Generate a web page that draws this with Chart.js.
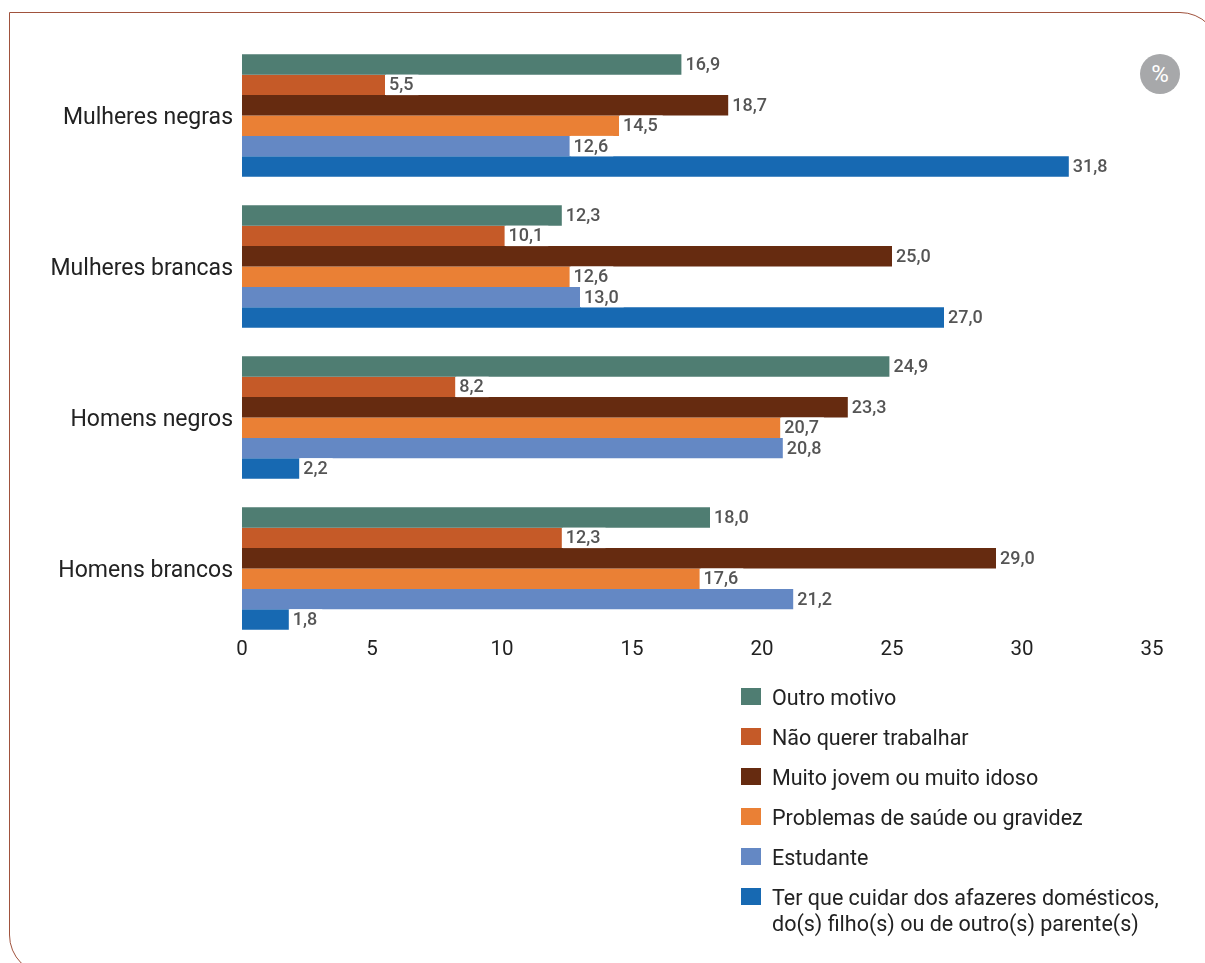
<!DOCTYPE html>
<html>
<head>
<meta charset="utf-8">
<script src="https://cdn.jsdelivr.net/npm/chart.js@4/dist/chart.umd.min.js"></script>
<style>
    body { margin: 0; background: #fff; font-family: Roboto, sans-serif; }
    #wrap { position: relative; width: 1205px; height: 963px; overflow: hidden; }
    #frame {
        position: absolute; left: 9px; top: 12px; width: 1209px; height: 961px;
        border: 1.5px solid #a0523d;
        border-top-right-radius: 40px; border-bottom-left-radius: 40px;
    }
    #chart { position: absolute; left: 0; top: 0; }
    #badge {
        position: absolute; left: 1140px; top: 54px; width: 40px; height: 40px;
        border-radius: 50%; background: #a7a8aa; color: #fff;
        font-size: 24px; line-height: 41px; text-align: center;
    }
    #legend { position: absolute; left: 741px; top: 686px; }
    .item { position: relative; height: 40px; font-size: 21.5px; color: #222; }
    .item span.box { position: absolute; left: 0; top: 2px; width: 20px; height: 17px; }
    .item span.txt { position: absolute; left: 31px; top: -1px; line-height: 26px; white-space: nowrap; }
</style>
</head>
<body>
<div id="wrap">
    <div id="frame"></div>
    <canvas id="chart" width="1205" height="963"></canvas>
    <div id="badge">%</div>
    <div id="legend"></div>
</div>
<script>
const categories = ['Mulheres negras', 'Mulheres brancas', 'Homens negros', 'Homens brancos'];
const seriesNames = [
    'Outro motivo',
    'Não querer trabalhar',
    'Muito jovem ou muito idoso',
    'Problemas de saúde ou gravidez',
    'Estudante',
    ['Ter que cuidar dos afazeres domésticos,', 'do(s) filho(s) ou de outro(s) parente(s)']
];
const seriesColors = ['#4f7d72', '#c55a28', '#662b10', '#ea8035', '#6488c4', '#1769b2'];

const outroMotivo = [16.9, 12.3, 24.9, 18.0];
const naoQuerer = [5.5, 10.1, 8.2, 12.3];
const jovemIdoso = [18.7, 25.0, 23.3, 29.0];
const saudeGravidez = [14.5, 12.6, 20.7, 17.6];
const estudante = [12.6, 13.0, 20.8, 21.2];
const afazeres = [31.8, 27.0, 2.2, 1.8];
const allSeries = [outroMotivo, naoQuerer, jovemIdoso, saudeGravidez, estudante, afazeres];

const xTicks = [0, 5, 10, 15, 20, 25, 30, 35];

// labels with white box at the end of each bar
const barLabels = {
    id: 'barLabels',
    afterDatasetsDraw(chart) {
        const c = chart.ctx;
        c.save();
        c.font = '500 18px Roboto';
        c.textBaseline = 'middle';
        chart.data.datasets.forEach((ds, i) => {
            chart.getDatasetMeta(i).data.forEach((bar, j) => {
                const txt = ds.data[j].toFixed(1).replace('.', ',');
                const w = c.measureText(txt).width;
                c.fillStyle = '#fff';
                c.fillRect(bar.x + 1, bar.y - bar.height / 2, w + 8, bar.height);
                c.fillStyle = '#555';
                c.fillText(txt, bar.x + 4, bar.y + 1);
            });
        });
        c.restore();
    }
};

new Chart(document.getElementById('chart'), {
    type: 'bar',
    data: {
        labels: categories,
        datasets: allSeries.map((vals, i) => ({
            label: seriesNames[i],
            data: vals,
            backgroundColor: seriesColors[i],
            borderWidth: 0,
            barPercentage: 1,
            categoryPercentage: 0.81
        }))
    },
    options: {
        indexAxis: 'y',
        responsive: false,
        animation: false,
        layout: { padding: { left: 0, top: 40, right: 53, bottom: 287 } },
        plugins: { legend: { display: false }, tooltip: { enabled: false } },
        scales: {
            x: {
                min: 0, max: 35,
                afterBuildTicks: s => { s.ticks = xTicks.map(v => ({ value: v })); },
                afterFit: s => { s.height = 40; },
                grid: { display: false, drawTicks: false },
                border: { display: false },
                ticks: { color: '#222', font: { family: 'Roboto', size: 20.5 }, padding: 2 }
            },
            y: {
                offset: false,
                // plot area stops a bit short of the last group so the x labels sit close under it
                afterBuildTicks: s => { s._startValue = -0.5; s._valueRange = 3.947; },
                afterFit: s => { s.width = 242; },
                grid: { display: false, drawTicks: false },
                border: { display: false },
                ticks: { color: '#222', font: { family: 'Roboto', size: 23 }, padding: 9, labelOffset: 3 }
            }
        }
    },
    plugins: [barLabels]
});

// legend
const legend = document.getElementById('legend');
seriesNames.forEach((name, i) => {
    const row = document.createElement('div');
    row.className = 'item';
    const box = document.createElement('span');
    box.className = 'box';
    box.style.background = seriesColors[i];
    const txt = document.createElement('span');
    txt.className = 'txt';
    txt.innerHTML = Array.isArray(name) ? name.join('<br>') : name;
    row.appendChild(box);
    row.appendChild(txt);
    legend.appendChild(row);
});
</script>
</body>
</html>
